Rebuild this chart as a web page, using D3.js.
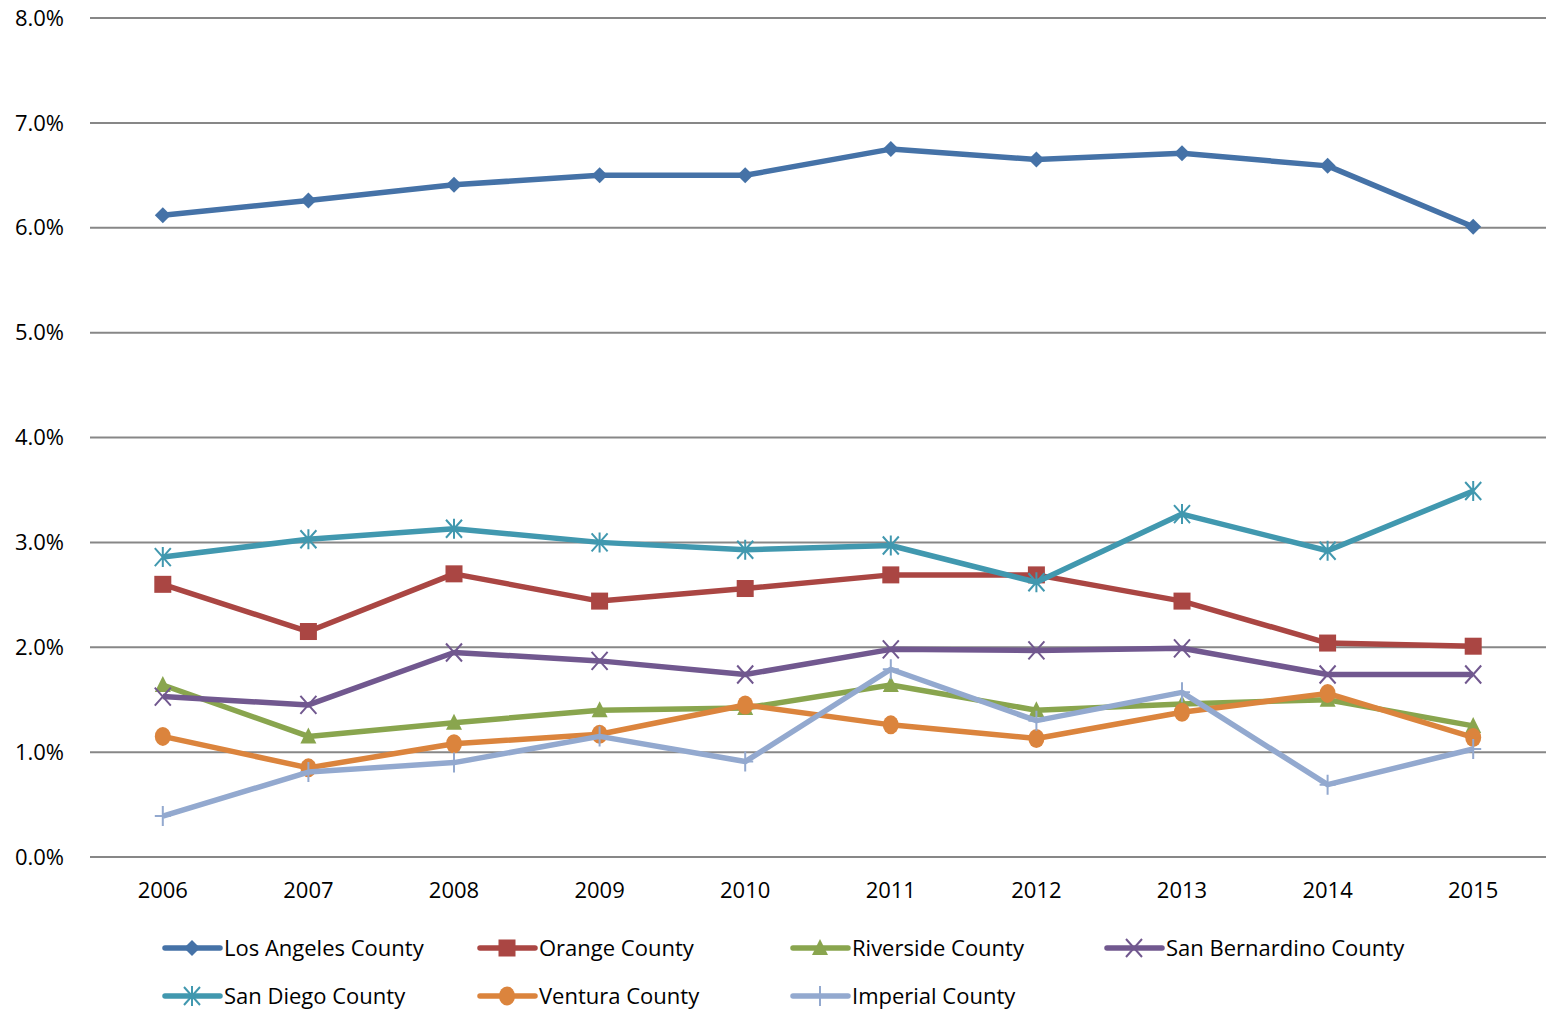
<!DOCTYPE html>
<html><head><meta charset="utf-8">
<script src="https://cdn.jsdelivr.net/npm/d3@7"></script>
<style>body{margin:0;background:#fff}svg{display:block}text{font-family:"Open Sans",sans-serif;fill:#000}</style>
</head><body><svg id="c" width="1546" height="1014"></svg>
<script>
const years = ["2006","2007","2008","2009","2010","2011","2012","2013","2014","2015"];
const yTicks = [0,1,2,3,4,5,6,7,8];
const seriesNames = ["Los Angeles County","Orange County","Riverside County","San Bernardino County","San Diego County","Ventura County","Imperial County"];
const losAngeles   = [6.12,6.26,6.41,6.50,6.50,6.75,6.65,6.71,6.59,6.01];
const orange       = [2.60,2.15,2.70,2.44,2.56,2.69,2.69,2.44,2.04,2.01];
const riverside    = [1.64,1.15,1.28,1.40,1.42,1.64,1.40,1.46,1.50,1.25];
const sanBernardino= [1.53,1.45,1.95,1.87,1.74,1.98,1.97,1.99,1.74,1.74];
const sanDiego     = [2.86,3.03,3.13,3.00,2.93,2.97,2.62,3.27,2.92,3.49];
const ventura      = [1.15,0.85,1.08,1.17,1.45,1.26,1.13,1.38,1.56,1.14];
const imperial     = [0.39,0.81,0.90,1.15,0.91,1.79,1.30,1.57,0.69,1.03];
const colors = ["#4572A7","#AA4643","#89A54E","#71588F","#4198AF","#DB843D","#93A9CF"];
const markers = ["diamond","square","triangle","x","star","circle","plus"];
const values = [losAngeles,orange,riverside,sanBernardino,sanDiego,ventura,imperial];
const series = seriesNames.map((n,i)=>({name:n,values:values[i],color:colors[i],marker:markers[i]}));

const svg = d3.select("#c");
const L=90,R=1546,T=18,B=857;
const x = d3.scaleBand().domain(years).range([L,R]);
const y = d3.scaleLinear().domain([0,8]).range([B,T]);
const cx = d=>x(d)+x.bandwidth()/2;

svg.append("g").selectAll("line").data(yTicks).join("line")
  .attr("x1",L).attr("x2",R).attr("y1",d=>y(d)).attr("y2",d=>y(d))
  .attr("stroke","#878787").attr("stroke-width",2);
svg.append("g").selectAll("text").data(yTicks).join("text")
  .attr("x",64).attr("y",d=>y(d)).attr("dy","0.35em").attr("text-anchor","end")
  .attr("font-size",22).text(d=>d.toFixed(1)+"%");
svg.append("g").selectAll("text").data(years).join("text")
  .attr("x",d=>cx(d)).attr("y",890).attr("dy","0.35em").attr("text-anchor","middle")
  .attr("font-size",22).text(d=>d);

function drawMarker(g,type,color,px,py){
  const s=8;
  if(type==="diamond") g.append("path").attr("d",`M${px},${py-s}L${px+s},${py}L${px},${py+s}L${px-s},${py}Z`).attr("fill",color);
  else if(type==="square") g.append("rect").attr("x",px-8.5).attr("y",py-8.5).attr("width",17).attr("height",17).attr("fill",color);
  else if(type==="triangle") g.append("path").attr("d",`M${px},${py-9}L${px+8},${py+7}L${px-8},${py+7}Z`).attr("fill",color);
  else if(type==="circle") g.append("ellipse").attr("cx",px).attr("cy",py).attr("rx",8).attr("ry",9.5).attr("fill",color);
  else if(type==="x") g.append("path").attr("d",`M${px-8},${py-9}L${px+8},${py+9}M${px-8},${py+9}L${px+8},${py-9}`).attr("stroke",color).attr("stroke-width",2);
  else if(type==="star") g.append("path").attr("d",`M${px-8},${py-9}L${px+8},${py+9}M${px-8},${py+9}L${px+8},${py-9}M${px},${py-10}L${px},${py+10}`).attr("stroke",color).attr("stroke-width",2);
  else if(type==="plus") g.append("path").attr("d",`M${px-8},${py}L${px+8},${py}M${px},${py-10}L${px},${py+10}`).attr("stroke",color).attr("stroke-width",2);
}

const line = d3.line().x((d,i)=>cx(years[i])).y(d=>y(d));
series.forEach(s=>{
  const g=svg.append("g");
  g.append("path").attr("d",line(s.values)).attr("fill","none").attr("stroke",s.color)
    .attr("stroke-width",5.5).attr("stroke-linejoin","round");
  s.values.forEach((v,i)=>drawMarker(g,s.marker,s.color,cx(years[i]),y(v)));
});

const legX=[165,480,793,1107], legY=[948,996];
series.forEach((s,i)=>{
  const lx=legX[i%4], ly=legY[Math.floor(i/4)];
  const g=svg.append("g");
  g.append("line").attr("x1",lx).attr("x2",lx+55).attr("y1",ly).attr("y2",ly)
    .attr("stroke",s.color).attr("stroke-width",5.5).attr("stroke-linecap","round");
  drawMarker(g,s.marker,s.color,lx+27,ly);
  g.append("text").attr("x",lx+59).attr("y",ly).attr("dy","0.35em").attr("font-size",22).text(s.name);
});
</script></body></html>
